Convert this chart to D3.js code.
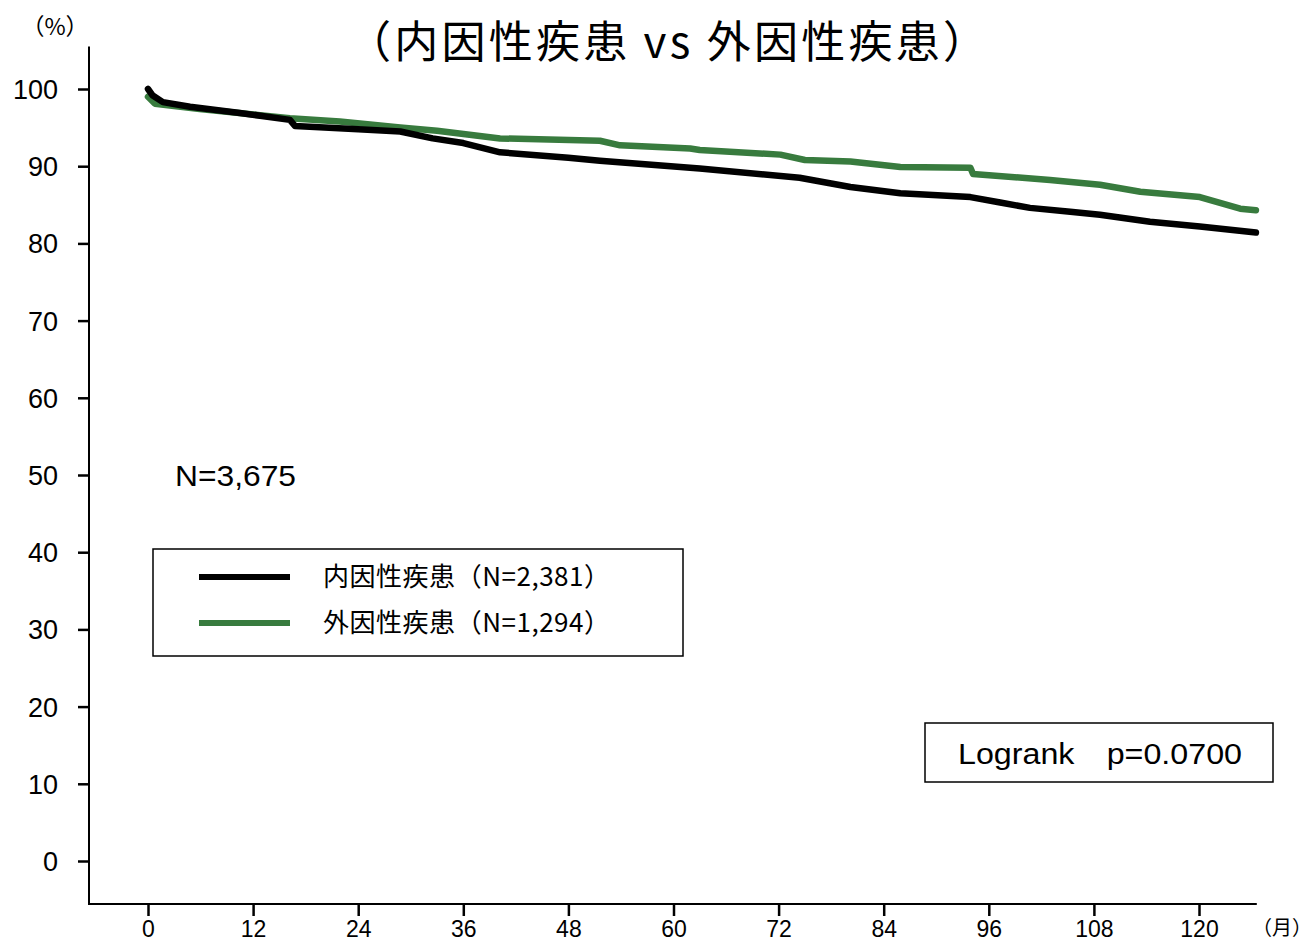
<!DOCTYPE html>
<html><head><meta charset="utf-8">
<script src="https://cdn.jsdelivr.net/npm/d3@7/dist/d3.min.js"></script>
<style>
body{margin:0;background:#fff;}
svg{display:block;}
text{fill:#000;}
</style></head>
<body><svg id="c" width="1314" height="941"></svg>
<script>
// ---- data ----
const title = "（内因性疾患 vs 外因性疾患）";
const seriesNames = ["内因性疾患（N=2,381）", "外因性疾患（N=1,294）"];
const seriesColors = ["#000000", "#387b3e"];
const endoMonths = [0, 0.5, 1.7, 4.8, 10.5, 16.2, 16.8, 24, 28.8, 32.5, 36, 40.2, 48, 51.6, 63, 74.4, 80.2, 85.9, 93.9, 97.3, 100.7, 105.3, 108.7, 114.4, 120.1, 126.5];
const endoSurv   = [100, 99.2, 98.3, 97.7, 96.9, 96.0, 95.2, 94.8, 94.5, 93.6, 93.0, 91.8, 91.1, 90.7, 89.7, 88.5, 87.3, 86.5, 86.0, 85.3, 84.6, 84.1, 83.7, 82.8, 82.2, 81.4];
const exoMonths  = [0, 0.8, 5.9, 12.8, 16.2, 21.9, 28.8, 33, 40.2, 51.6, 53.9, 61.9, 63, 72.2, 75, 80.2, 85.9, 93.9, 94.2, 103, 108.7, 113.3, 120.1, 124.7, 126.5];
const exoSurv    = [99.0, 98.1, 97.4, 96.6, 96.2, 95.8, 95.0, 94.6, 93.6, 93.3, 92.7, 92.3, 92.1, 91.5, 90.8, 90.6, 89.9, 89.8, 89.0, 88.2, 87.6, 86.7, 86.0, 84.5, 84.3];
const xTicks = [0, 12, 24, 36, 48, 60, 72, 84, 96, 108, 120];
const yTicks = [0, 10, 20, 30, 40, 50, 60, 70, 80, 90, 100];
const nTotal = "N=3,675";
const logrank = "Logrank　p=0.0700";
const yUnit = "（%）";
const xUnit = "（月）";

// ---- chart ----
const svg = d3.select("#c");
const x = d3.scaleLinear().domain([0, 120]).range([148, 1199]);
const y = d3.scaleLinear().domain([0, 100]).range([861, 89]);
const axisFont = "'Liberation Sans', Arial, sans-serif";
const cjkFont = "'Noto Sans CJK JP', sans-serif";

// axis lines
svg.append("line").attr("x1", 89).attr("x2", 89).attr("y1", y(105.5)).attr("y2", 904)
  .attr("stroke", "#000").attr("stroke-width", 2);
svg.append("line").attr("x1", 88).attr("x2", x(126.6)).attr("y1", 904).attr("y2", 904)
  .attr("stroke", "#000").attr("stroke-width", 2);

const yAxis = svg.append("g").attr("transform", "translate(89,0)")
  .call(d3.axisLeft(y).tickValues(yTicks).tickSize(11).tickPadding(20).tickFormat(d3.format("d")));
yAxis.select(".domain").remove();
yAxis.selectAll(".tick line").attr("stroke-width", 2.5);
yAxis.selectAll("text").attr("font-family", axisFont).attr("font-size", 27).attr("dy", "0.35em");

const xAxis = svg.append("g").attr("transform", "translate(0,904)")
  .call(d3.axisBottom(x).tickValues(xTicks).tickSize(12).tickPadding(4).tickFormat(d3.format("d")));
xAxis.select(".domain").remove();
xAxis.selectAll(".tick line").attr("stroke-width", 2.5);
xAxis.selectAll("text").attr("font-family", "'Liberation Sans Narrow', 'Liberation Sans', sans-serif")
  .attr("font-size", 23).attr("dy", "0.72em");

// curves
const line = d3.line().x(d => x(d[0])).y(d => y(d[1])).curve(d3.curveLinear);
const series = [d3.zip(endoMonths, endoSurv), d3.zip(exoMonths, exoSurv)];
[1, 0].forEach(i => {
  svg.append("path").attr("d", line(series[i])).attr("fill", "none")
    .attr("stroke", seriesColors[i]).attr("stroke-width", 6.5)
    .attr("stroke-linecap", "round").attr("stroke-linejoin", "round");
});

// title
svg.append("text").attr("x", 667).attr("y", 58).attr("text-anchor", "middle")
  .attr("font-family", cjkFont).attr("font-size", 44).attr("font-weight", 400)
  .attr("textLength", 640).attr("lengthAdjust", "spacing").text(title);

// units
svg.append("text").attr("x", 55).attr("y", 35).attr("text-anchor", "middle")
  .attr("font-family", cjkFont).attr("font-size", 23).text(yUnit);
svg.append("text").attr("x", 1312).attr("y", 935).attr("text-anchor", "end")
  .attr("font-family", cjkFont).attr("font-size", 20).text(xUnit);

// N
svg.append("text").attr("x", 175).attr("y", 486)
  .attr("font-family", axisFont).attr("font-size", 29)
  .attr("textLength", 121).attr("lengthAdjust", "spacingAndGlyphs").text(nTotal);

// legend
svg.append("rect").attr("x", 153).attr("y", 549).attr("width", 530).attr("height", 107)
  .attr("fill", "none").attr("stroke", "#000").attr("stroke-width", 1.5);
[577, 623].forEach((ly, i) => {
  svg.append("line").attr("x1", 199).attr("x2", 290).attr("y1", ly).attr("y2", ly)
    .attr("stroke", seriesColors[i]).attr("stroke-width", 6);
  svg.append("text").attr("x", 323).attr("y", ly + 9)
    .attr("font-family", cjkFont).attr("font-size", 26)
    .attr("textLength", 287).attr("lengthAdjust", "spacing").text(seriesNames[i]);
});

// logrank box
svg.append("rect").attr("x", 925).attr("y", 723).attr("width", 348).attr("height", 59)
  .attr("fill", "none").attr("stroke", "#000").attr("stroke-width", 1.5);
svg.append("text").attr("x", 958).attr("y", 764)
  .attr("font-family", axisFont).attr("font-size", 29)
  .attr("textLength", 284).attr("lengthAdjust", "spacingAndGlyphs").text(logrank);
</script></body></html>
